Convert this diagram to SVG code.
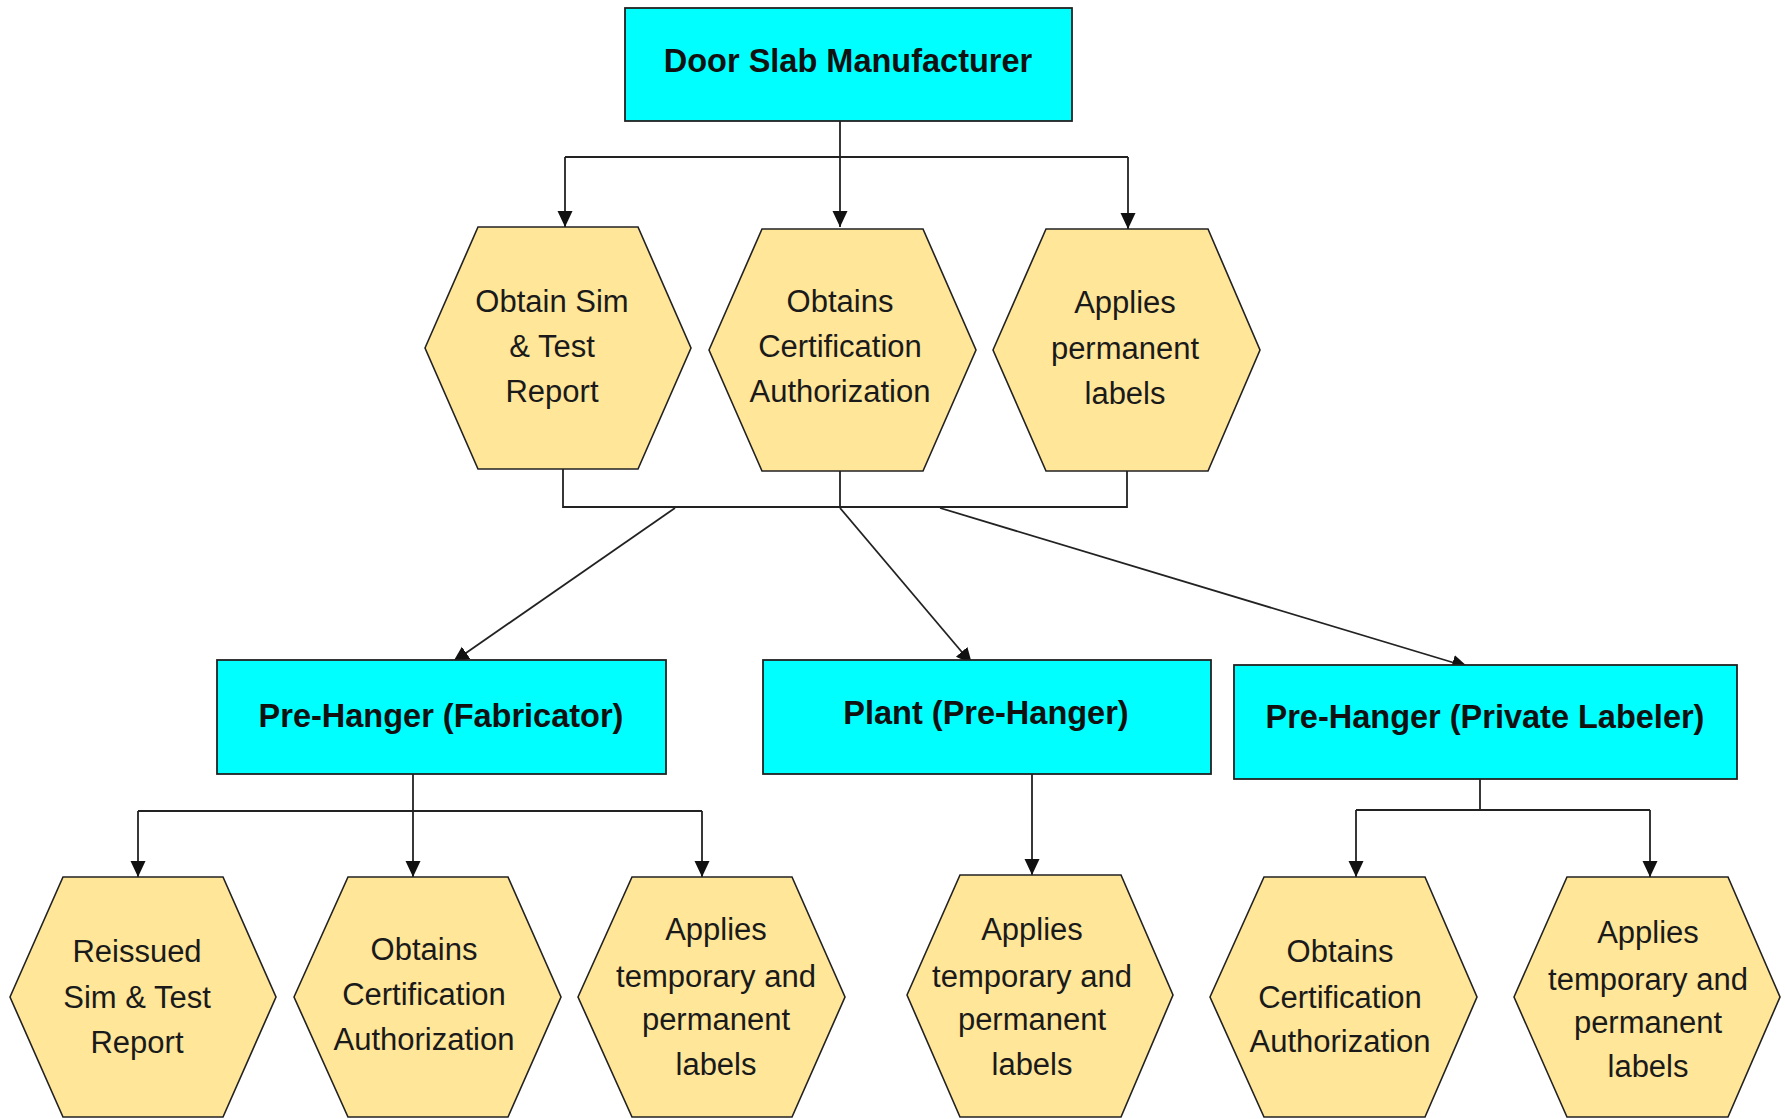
<svg xmlns="http://www.w3.org/2000/svg" width="1785" height="1119" viewBox="0 0 1785 1119">
<style>
  .box { fill: #00FFFF; stroke: #222; stroke-width: 1.8; }
  .hex { fill: #FFE699; stroke: #222; stroke-width: 1.6; }
  .title { font-family: "Liberation Sans", Arial, sans-serif; font-weight: bold; font-size: 32.5px; fill: #111; text-anchor: middle; }
  .lbl { font-family: "Liberation Sans", Arial, sans-serif; font-size: 31px; fill: #1a1a1a; text-anchor: middle; }
  .conn { fill: none; stroke: #222; stroke-width: 1.8; }
  .arr { fill: none; stroke: #222; stroke-width: 1.8; marker-end: url(#ah); }
</style>
<defs>
  <marker id="ah" markerUnits="userSpaceOnUse" markerWidth="18" markerHeight="18" refX="16" refY="8" orient="auto">
    <path d="M0,0.5 L16,8 L0,15.5 Z" fill="#111"/>
  </marker>
</defs>
<rect width="1785" height="1119" fill="#fff"/>

<g id="connectors">
  <path class="conn" d="M840,121 V157"/>
  <path class="conn" d="M565,157 H1128"/>
  <path class="arr" d="M840,157 V227"/>
  <path class="arr" d="M565,157 V227"/>
  <path class="arr" d="M1128,157 V229"/>
  <path class="conn" d="M563,469 V507 H1127 V471"/>
  <path class="conn" d="M840,471 V507"/>
  <path class="arr" d="M675,508 L453,662"/>
  <path class="arr" d="M840,508 L972,664"/>
  <path class="arr" d="M940,508 L1468,667"/>
  <path class="conn" d="M413,774 V811"/>
  <path class="conn" d="M138,811 H702"/>
  <path class="arr" d="M138,811 V877"/>
  <path class="arr" d="M413,811 V877"/>
  <path class="arr" d="M702,811 V877"/>
  <path class="arr" d="M1032,774 V875"/>
  <path class="conn" d="M1480,779 V810"/>
  <path class="conn" d="M1356,810 H1650"/>
  <path class="arr" d="M1356,810 V877"/>
  <path class="arr" d="M1650,810 V877"/>
</g>

<g id="door-slab-manufacturer">
  <rect class="box" x="625" y="8" width="447" height="113"/>
  <text class="title" x="848" y="72" font-size="33">Door Slab Manufacturer</text>
</g>

<g id="obtain-sim-test">
  <polygon class="hex" points="425,348 478,227 638,227 691,348 638,469 478,469"/>
  <text class="lbl" x="552" y="312">Obtain Sim</text>
  <text class="lbl" x="552" y="357">&amp; Test</text>
  <text class="lbl" x="552" y="402">Report</text>
</g>

<g id="obtains-cert-1">
  <polygon class="hex" points="709,350 762,229 923,229 976,350 923,471 762,471"/>
  <text class="lbl" x="840" y="312">Obtains</text>
  <text class="lbl" x="840" y="357">Certification</text>
  <text class="lbl" x="840" y="402">Authorization</text>
</g>

<g id="applies-permanent-1">
  <polygon class="hex" points="993,350 1046,229 1208,229 1260,350 1208,471 1046,471"/>
  <text class="lbl" x="1125" y="313">Applies</text>
  <text class="lbl" x="1125" y="359">permanent</text>
  <text class="lbl" x="1125" y="404">labels</text>
</g>

<g id="pre-hanger-fabricator">
  <rect class="box" x="217" y="660" width="449" height="114"/>
  <text class="title" x="441" y="727">Pre-Hanger (Fabricator)</text>
</g>

<g id="plant-pre-hanger">
  <rect class="box" x="763" y="660" width="448" height="114"/>
  <text class="title" x="986" y="724">Plant (Pre-Hanger)</text>
</g>

<g id="pre-hanger-private-labeler">
  <rect class="box" x="1234" y="665" width="503" height="114"/>
  <text class="title" x="1485" y="728">Pre-Hanger (Private Labeler)</text>
</g>

<g id="reissued-sim-test">
  <polygon class="hex" points="10,997 63,877 223,877 276,997 223,1117 63,1117"/>
  <text class="lbl" x="137" y="962">Reissued</text>
  <text class="lbl" x="137" y="1008">Sim &amp; Test</text>
  <text class="lbl" x="137" y="1053">Report</text>
</g>

<g id="obtains-cert-2">
  <polygon class="hex" points="294,997 348,877 508,877 561,997 508,1117 348,1117"/>
  <text class="lbl" x="424" y="960">Obtains</text>
  <text class="lbl" x="424" y="1005">Certification</text>
  <text class="lbl" x="424" y="1050">Authorization</text>
</g>

<g id="applies-temp-perm-1">
  <polygon class="hex" points="578,997 632,877 792,877 845,997 792,1117 632,1117"/>
  <text class="lbl" x="716" y="940">Applies</text>
  <text class="lbl" x="716" y="987">temporary and</text>
  <text class="lbl" x="716" y="1030">permanent</text>
  <text class="lbl" x="716" y="1075">labels</text>
</g>

<g id="applies-temp-perm-2">
  <polygon class="hex" points="907,995 960,875 1121,875 1173,995 1121,1117 960,1117"/>
  <text class="lbl" x="1032" y="940">Applies</text>
  <text class="lbl" x="1032" y="987">temporary and</text>
  <text class="lbl" x="1032" y="1030">permanent</text>
  <text class="lbl" x="1032" y="1075">labels</text>
</g>

<g id="obtains-cert-3">
  <polygon class="hex" points="1210,997 1264,877 1425,877 1477,997 1425,1117 1264,1117"/>
  <text class="lbl" x="1340" y="962">Obtains</text>
  <text class="lbl" x="1340" y="1008">Certification</text>
  <text class="lbl" x="1340" y="1052">Authorization</text>
</g>

<g id="applies-temp-perm-3">
  <polygon class="hex" points="1514,997 1567,877 1728,877 1780,997 1728,1117 1567,1117"/>
  <text class="lbl" x="1648" y="943">Applies</text>
  <text class="lbl" x="1648" y="990">temporary and</text>
  <text class="lbl" x="1648" y="1033">permanent</text>
  <text class="lbl" x="1648" y="1077">labels</text>
</g>
</svg>
